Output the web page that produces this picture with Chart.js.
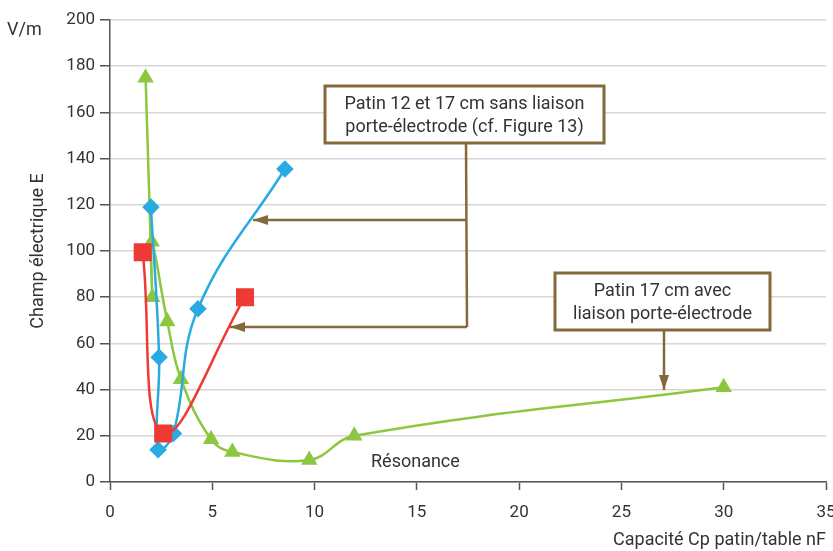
<!DOCTYPE html>
<html lang="fr">
<head>
<meta charset="UTF-8">
<title>Champ électrique E</title>
<script src="https://cdn.jsdelivr.net/npm/chart.js"></script>
<style>
  html, body { margin: 0; padding: 0; background: #fff; }
  #wrap { width: 833px; height: 551px; }
</style>
</head>
<body>
<div id="wrap"><canvas id="graph" width="833" height="551"></canvas></div>
<script>
// Données (x = capacité nF, y = champ V/m)
var bleuX = [2.0, 2.4, 2.35, 3.1, 4.3, 8.55];
var bleuY = [119, 54, 14, 21, 75, 135.5];
var rougeX = [1.6, 2.6, 6.6];
var rougeY = [99.5, 21, 80];
var vertX = [1.74, 2.07, 2.04, 2.8, 3.47, 4.94, 5.98, 9.74, 11.94, 30.0];
var vertY = [175, 80, 104, 69.5, 44.5, 18.5, 13, 9.5, 20, 41];

var xTicks = [0, 5, 10, 15, 20, 25, 30, 35];
var yTicks = [0, 20, 40, 60, 80, 100, 120, 140, 160, 180, 200];

function points(xs, ys) {
    return xs.map(function (x, i) { return { x: x, y: ys[i] }; });
}

var police = "Roboto, 'DejaVu Sans', sans-serif";
var brun = "#846a3a";
var texte = "#333333";

// Encadrés, flèches et textes libres
var annotations = {
    id: "annotations",
    afterDatasetsDraw: function (chart) {
        var ctx = chart.ctx;
        ctx.save();
        ctx.font = "18px " + police;
        ctx.fillStyle = texte;
        ctx.textBaseline = "middle";

        // unité en haut à gauche
        ctx.textAlign = "left";
        ctx.fillText("V/m", 7, 30);
        ctx.fillText("Résonance", 371, 462);

        function fleche(x1, y1, x2, y2) {
            ctx.strokeStyle = brun;
            ctx.fillStyle = brun;
            ctx.lineWidth = 2.5;
            ctx.beginPath();
            ctx.moveTo(x1, y1);
            ctx.lineTo(x2, y2);
            ctx.stroke();
            var a = Math.atan2(y2 - y1, x2 - x1);
            ctx.beginPath();
            ctx.moveTo(x2, y2);
            ctx.lineTo(x2 - 15 * Math.cos(a) + 5 * Math.sin(a), y2 - 15 * Math.sin(a) - 5 * Math.cos(a));
            ctx.lineTo(x2 - 15 * Math.cos(a) - 5 * Math.sin(a), y2 - 15 * Math.sin(a) + 5 * Math.cos(a));
            ctx.closePath();
            ctx.fill();
        }

        function boite(x, y, w, h, lignes) {
            ctx.fillStyle = "#fff";
            ctx.fillRect(x, y, w, h);
            ctx.strokeStyle = brun;
            ctx.lineWidth = 3;
            ctx.strokeRect(x, y, w, h);
            ctx.fillStyle = texte;
            ctx.textAlign = "center";
            lignes.forEach(function (l, i) {
                ctx.fillText(l, x + w / 2, y + 18 + i * 23);
            });
        }

        // encadré 1 : deux flèches
        ctx.strokeStyle = brun;
        ctx.lineWidth = 2.5;
        ctx.beginPath();
        ctx.moveTo(466, 144);
        ctx.lineTo(467, 327);
        ctx.stroke();
        fleche(467, 220, 253, 220);
        fleche(467, 327, 230, 327);
        boite(325, 86, 279, 57, ["Patin 12 et 17 cm sans liaison", "porte-électrode (cf. Figure 13)"]);

        // encadré 2
        fleche(664, 330, 664, 390);
        boite(555, 273, 215, 57, ["Patin 17 cm avec", "liaison porte-électrode"]);

        ctx.restore();
    }
};

new Chart(document.getElementById("graph"), {
    type: "scatter",
    data: {
        datasets: [
            {
                label: "vert",
                data: points(vertX, vertY),
                showLine: true,
                tension: 0.4,
                borderColor: "#8dc63f",
                backgroundColor: "#8dc63f",
                borderWidth: 2.5,
                pointStyle: "triangle",
                pointRadius: 7,
                order: 3
            },
            {
                label: "bleu",
                data: points(bleuX, bleuY),
                showLine: true,
                tension: 0.4,
                borderColor: "#29abe2",
                backgroundColor: "#29abe2",
                borderWidth: 2.5,
                pointStyle: "rectRot",
                pointRadius: 7,
                order: 2
            },
            {
                label: "rouge",
                data: points(rougeX, rougeY),
                showLine: true,
                tension: 0.4,
                borderColor: "#ee3a35",
                backgroundColor: "#ee3a35",
                borderWidth: 2.5,
                pointStyle: "rect",
                pointRadius: 11,
                order: 1
            }
        ]
    },
    options: {
        responsive: false,
        animation: false,
        layout: { autoPadding: false, padding: { left: 0, right: 7, top: 20, bottom: 0 } },
        plugins: {
            legend: { display: false },
            tooltip: { enabled: false }
        },
        scales: {
            x: {
                type: "linear",
                min: 0,
                max: 35,
                afterBuildTicks: function (s) { s.ticks = xTicks.map(function (v) { return { value: v }; }); },
                afterFit: function (s) { s.height = 69; s.paddingLeft = 0; s.paddingRight = 0; },
                ticks: { color: texte, font: { family: police, size: 17 }, padding: 13, maxRotation: 0 },
                grid: { drawOnChartArea: false, drawTicks: true, tickLength: 8, tickColor: "#555", tickWidth: 1.5 },
                border: { color: "#555", width: 1.5 },
                title: {
                    display: true,
                    text: "Capacité Cp patin/table nF",
                    align: "end",
                    color: texte,
                    font: { family: police, size: 18 },
                    padding: { top: 0, bottom: 0 }
                }
            },
            y: {
                type: "linear",
                min: 0,
                max: 200,
                afterBuildTicks: function (s) { s.ticks = yTicks.map(function (v) { return { value: v }; }); },
                afterFit: function (s) { s.width = 110; s.paddingTop = 0; s.paddingBottom = 0; },
                ticks: { color: texte, font: { family: police, size: 17 }, padding: 5 },
                grid: { color: "#d6d6d6", lineWidth: 1.5, tickLength: 10, tickColor: "#555", tickWidth: 1.5 },
                border: { color: "#555", width: 1.5 },
                title: {
                    display: true,
                    text: "Champ électrique E",
                    color: texte,
                    font: { family: police, size: 18 },
                    padding: { top: 28, bottom: 0 }
                }
            }
        }
    },
    plugins: [annotations]
});
</script>
</body>
</html>
